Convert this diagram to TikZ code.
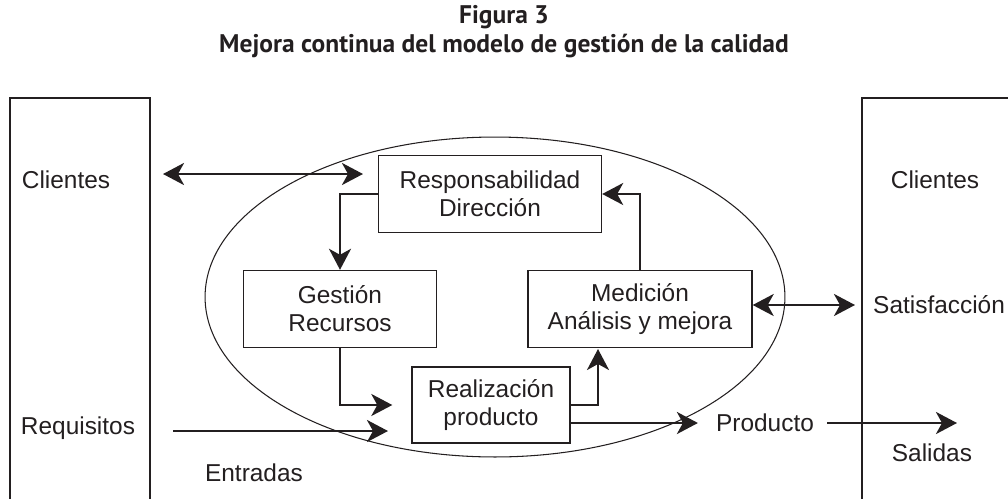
\documentclass[tikz,border=0pt]{standalone}
\usepackage{fontspec}
\setmainfont{Liberation Sans}
\newfontfamily\titlefont{PT Sans}
\usetikzlibrary{positioning,arrows.meta}
\definecolor{InkGray}{RGB}{35,31,32}

\begin{document}
\begin{tikzpicture}[x=0.02cm,y=-0.02cm,
	box/.style={draw=InkGray, line width=0.8pt, minimum height=1.54cm,
		align=center, text=InkGray, font=\fontsize{13.9}{16}\selectfont},
	lbl/.style={text=InkGray, font=\fontsize{13.9}{16}\selectfont},
	flow/.style={->, line width=1.5pt, InkGray,
		>={Stealth[length=0.42cm,width=0.44cm,inset=0.12cm]}},
	dflow/.style={flow, <->}
	]
	
	\useasboundingbox (0,0) rectangle (1008,498);
	\clip (0,0) rectangle (1008,498);
	
	% title
	\node[
	align=center,
	text=InkGray,
	font=\titlefont\bfseries\fontsize{14.5}{16.4}\selectfont
	]
	(title) at (504,32)
	{Figura 3\\Mejora continua del modelo de gestión de la calidad};
	
	% outer frames and the ellipse
	\draw[InkGray, line width=0.8pt] (10,520) -- (10,98) -- (150,98) -- (150,520);
	\draw[InkGray, line width=0.8pt] (1030,98) -- (862,98) -- (862,520);
	\draw[InkGray, line width=0.6pt] (495,297) ellipse [x radius=5.8cm, y radius=3.2cm];
	
	% process boxes
	\node[box, minimum width=4.46cm] (resp) at (490,194) {Responsabilidad\\Dirección};
	\node[box, minimum width=3.86cm] (gest) at (340,309) {Gestión\\Recursos};
	\node[box, minimum width=4.48cm] (med) at (640,309) {Medición\\Análisis y mejora};
	\node[box, minimum width=3.16cm, minimum height=1.52cm] (real) at (491,405) {Realización\\producto};
	
	% side labels
	\node[lbl] (cliL) at (66,180) {Clientes};
	\node[lbl] (req) at (78,428) {Requisitos};
	\node[lbl] (ent) at (254,473) {Entradas};
	\node[lbl] (cliR) at (935,180) {Clientes};
	\node[lbl, anchor=west] (sat) at (867,305) {Satisfacción};
	\node[lbl] (sal) at (932,453) {Salidas};
	\node[lbl] (prod) at (765,423) {Producto};
	
	% free arrow ends
	\coordinate (cliA) at (163,174);
	\coordinate (cliB) at (363,174);
	\coordinate (reqA) at (173,431);
	\coordinate (reqB) at (388,431);
	\coordinate (medIn) at (598,349);
	\coordinate (satB) at (855,305);
	\coordinate (salB) at (957,423);
	
	\draw[dflow] (cliA) -- (cliB);
	\draw[flow] (resp.west) -| (gest.north);
	\draw[flow] (med.north) |- (resp.east);
	\draw[flow, shorten >=0.38cm] (gest.south) |- (real.west);
	\draw[flow] (reqA) -- (reqB);
	\draw[flow] (real.east) -| (medIn);
	\draw[flow, shorten >=0.24cm] (real.east |- prod) -- (prod.west);
	\draw[flow, shorten <=0.14cm] (prod.east) -- (salB);
	\draw[dflow] (med.east |- satB) -- (satB);
	
\end{tikzpicture}
\end{document}
